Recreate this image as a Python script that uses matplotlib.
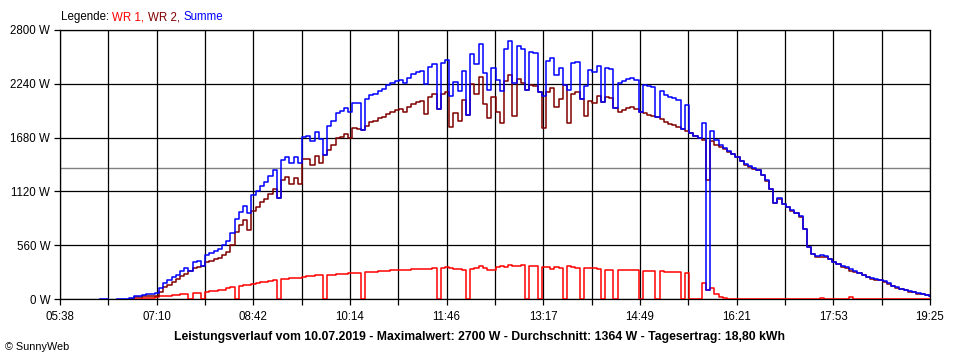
import numpy as np
import matplotlib
matplotlib.use("Agg")
import matplotlib.pyplot as plt

plt.rcParams['font.family'] = ['Liberation Sans', 'DejaVu Sans']

nan = np.nan

# messwerte alle 4 minuten ab 06:14 (minuten seit mitternacht)
t_start = 374
t_step = 4

wr1 = [nan, nan, nan, nan, nan, nan, nan, nan, 2, 3,
       5, 7, 10, 15, 22, 28, 33, 36, 40, 45,
       50, 55, 0, 62, 65, 0, 78, 82, 88, 92,
       98, 110, 125, 0, 135, 145, 150, 160, 168, 175,
       182, 188, 195, 0, 205, 212, 218, 222, 220, 230,
       235, 240, 245, 248, 0, 250, 255, 258, 262, 265,
       268, 270, 272, 0, 278, 282, 285, 288, 292, 295,
       298, 300, 302, 303, 305, 308, 310, 312, 313, 315,
       318, 0, 325, 335, 320, 315, 310, 305, 0, 310,
       320, 345, 320, 300, 305, 330, 340, 335, 352, 345,
       340, 350, 0, 340, 345, 0, 335, 330, 310, 330,
       325, 0, 345, 330, 320, 0, 318, 320, 325, 315,
       0, 305, 305, 0, 300, 300, 300, 302, 300, 0,
       296, 295, 292, 0, 290, 285, 282, 280, 278, 0,
       270, 0, 0, 0, 170, 94, 110, 55, 17, 8,
       5, 5, 5, 5, 5, 5, 5, 5, 5, 5,
       5, 5, 5, 5, 5, 5, 5, 5, 5, 5,
       5, 5, 14, 5, 5, 5, 5, 5, 5, 24,
       5, 5, 5, 5, 5, 5, 5, 5, 5, 5,
       5, 5, 5, 5, 5, 5, 5, 5, 5]

wr2 = [nan, nan, nan, nan, nan, nan, nan, nan, 5, 20,
       20, 28, 32, 32, 35, 70, 120, 150, 180, 205,
       235, 260, 290, 320, 330, 345, 380, 395, 415, 430,
       460, 490, 565, 700, 770, 820, 720, 920, 960, 1005,
       1040, 1095, 1150, 1050, 1240, 1270, 1200, 1260, 1200, 1455,
       1460, 1400, 1490, 1420, 1500, 1550, 1600, 1680, 1690, 1720,
       1680, 1775, 1765, 1760, 1805, 1840, 1850, 1880, 1895, 1930,
       1950, 1965, 1975, 1945, 2000, 2030, 2055, 2065, 1930, 2100,
       2130, 1975, 2135, 2150, 1790, 1940, 1850, 2070, 1915, 2240,
       2130, 2310, 2030, 1880, 2100, 1950, 1830, 2270, 2330, 1900,
       2290, 2250, 2180, 2230, 2220, 2150, 1780, 2150, 2200, 2000,
       2080, 2230, 1830, 2130, 2150, 2080, 1900, 2060, 2040, 2110,
       2050, 2100, 2090, 1990, 1950, 1965, 1985, 2000, 1975, 1950,
       1935, 1920, 1910, 1890, 1870, 1840, 1825, 1808, 1790, 1770,
       1745, 1725, 1700, 1680, 1660, 1240, 1640, 1600, 1585, 1560,
       1535, 1505, 1473, 1435, 1400, 1375, 1355, 1340, 1290, 1230,
       1145, 995, 1045, 985, 955, 920, 890, 855, 725, 540,
       465, 440, 441, 440, 415, 385, 360, 335, 325, 291,
       285, 270, 245, 225, 210, 200, 193, 180, 157, 135,
       115, 103, 90, 78, 68, 57, 47, 37, 29]

summe = [nan, 5, 5, nan, nan, 5, 5, 5, 10, 30,
         30, 45, 50, 50, 60, 110, 165, 195, 225, 255,
         290, 320, 290, 382, 395, 345, 458, 477, 503, 522,
         558, 600, 690, 830, 905, 965, 900, 1080, 1128, 1180,
         1222, 1283, 1345, 1050, 1445, 1482, 1418, 1482, 1420, 1685,
         1695, 1640, 1735, 1668, 1500, 1800, 1855, 1938, 1952, 1985,
         1948, 2045, 2037, 1760, 2083, 2122, 2135, 2168, 2187, 2225,
         2248, 2265, 2277, 2248, 2305, 2338, 2365, 2377, 2243, 2415,
         2448, 1975, 2460, 2485, 2110, 2255, 2160, 2375, 1915, 2550,
         2450, 2655, 2350, 2180, 2405, 2280, 2170, 2605, 2682, 2245,
         2630, 2600, 2180, 2570, 2565, 2150, 2115, 2480, 2510, 2330,
         2405, 2230, 2175, 2460, 2470, 2080, 2218, 2380, 2365, 2425,
         2050, 2405, 2395, 1990, 2250, 2265, 2285, 2302, 2275, 1950,
         2231, 2215, 2202, 1890, 2160, 2125, 2107, 2088, 2068, 1770,
         2015, 1725, 1700, 1680, 1830, 94, 1750, 1655, 1602, 1568,
         1540, 1510, 1478, 1440, 1405, 1380, 1360, 1345, 1295, 1235,
         1150, 1000, 1050, 990, 960, 925, 895, 860, 730, 545,
         470, 445, 455, 445, 420, 390, 365, 340, 330, 315,
         290, 275, 250, 230, 215, 205, 198, 185, 162, 140,
         120, 108, 95, 83, 73, 62, 52, 42, 34]

durchschnitt = 1364
x_labels = ['05:38', '07:10', '08:42', '10:14', '11:46',
            '13:17', '14:49', '16:21', '17:53', '19:25']
y_ticks = [0, 560, 1120, 1680, 2240, 2800]
y_labels = ['0 W', '560 W', '1120 W', '1680 W', '2240 W', '2800 W']
t_min, t_max = 338, 1165

legende = [('WR 1, ', '#ff0000'), ('WR 2, ', '#800000'), ('Summe', '#0000ff')]
titel = ('Leistungsverlauf vom 10.07.2019 - Maximalwert: 2700 W - '
         'Durchschnitt: 1364 W - Tagesertrag: 18,80 kWh')

t = t_start + t_step * np.arange(len(summe))

fig = plt.figure(figsize=(9.6, 3.6), dpi=100)
ax = fig.add_axes([60 / 960, 1 - 299 / 360, 870 / 960, 269 / 360])

ax.axhline(durchschnitt, color='#808080', lw=1.0, zorder=1)

# treppenlinien wie im sunnyweb-diagramm
ax.plot(t, wr1, color='#ff0000', lw=1.1, drawstyle='steps-mid', zorder=3)
ax.plot(t, wr2, color='#800000', lw=1.1, drawstyle='steps-mid', zorder=3)
ax.plot(t, summe, color='#0000ff', lw=1.1, drawstyle='steps-mid', zorder=4)

ax.set_xlim(t_min, t_max)
ax.set_ylim(0, 2800)
ax.set_xticks(np.linspace(t_min, t_max, len(x_labels)))
ax.set_xticklabels(x_labels)
ax.set_xticks(np.linspace(t_min, t_max, 2 * len(x_labels) - 1), minor=True)
ax.set_yticks(y_ticks)
ax.set_yticklabels(y_labels)

ax.grid(True, which='both', axis='x', color='black', lw=0.9, zorder=2)
ax.grid(True, which='major', axis='y', color='black', lw=0.9, zorder=2)
ax.set_axisbelow(False)
for s in ax.spines.values():
    s.set_linewidth(0.9)

ax.tick_params(axis='both', which='both', direction='out', length=4,
               width=0.9, labelsize=8.3)
ax.tick_params(axis='x', pad=5)
ax.tick_params(axis='y', pad=3)

# legende oben links, farbige teile aneinander gehaengt
last = fig.text(61 / 960, 1 - 17 / 360, 'Legende: ', fontsize=8.3, va='center')
for txt, col in legende:
    last = ax.annotate(txt, xy=(1, 0), xycoords=last, va='bottom', ha='left',
                       fontsize=8.3, color=col, annotation_clip=False)

fig.text(0.5, 1 - 337 / 360, titel, ha='center', va='center',
         fontsize=8.8, fontweight='bold')
fig.text(5 / 960, 1 - 347 / 360, '\u00a9 SunnyWeb', ha='left', va='center',
         fontsize=7.8)

fig.savefig('out.png', dpi=100, facecolor='white')
